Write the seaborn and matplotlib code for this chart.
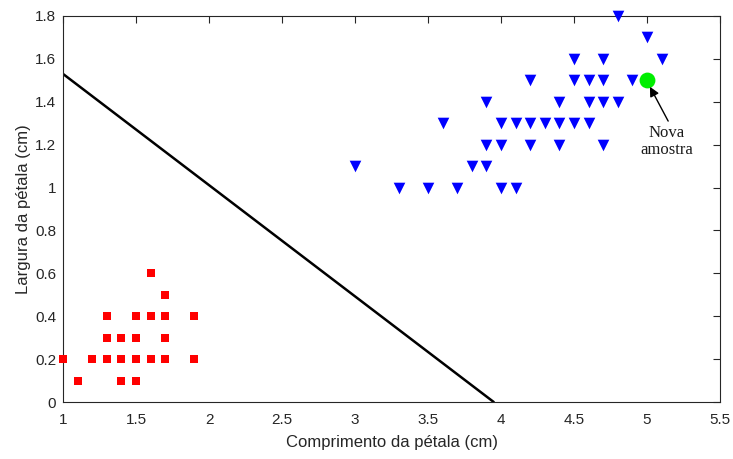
import matplotlib
matplotlib.use("Agg")
import matplotlib.pyplot as plt
import seaborn as sns
import pandas as pd

# Setosa (red squares)
setosa_len = [1.0, 1.1, 1.2, 1.3, 1.3, 1.3, 1.4, 1.4, 1.4, 1.5, 1.5, 1.5, 1.5,
              1.6, 1.6, 1.6, 1.7, 1.7, 1.7, 1.7, 1.9, 1.9]
setosa_wid = [0.2, 0.1, 0.2, 0.2, 0.3, 0.4, 0.1, 0.2, 0.3, 0.1, 0.2, 0.3, 0.4,
              0.2, 0.4, 0.6, 0.2, 0.3, 0.4, 0.5, 0.2, 0.4]

# Versicolor (blue triangles)
versi_len = [3.0, 3.3, 3.5, 3.6, 3.7, 3.8, 3.9, 3.9, 3.9, 4.0, 4.0, 4.0, 4.1, 4.1,
             4.2, 4.2, 4.2, 4.3, 4.4, 4.4, 4.4, 4.5, 4.5, 4.5, 4.6, 4.6, 4.6,
             4.7, 4.7, 4.7, 4.7, 4.8, 4.8, 4.9, 5.0, 5.1]
versi_wid = [1.1, 1.0, 1.0, 1.3, 1.0, 1.1, 1.1, 1.2, 1.4, 1.0, 1.2, 1.3, 1.0, 1.3,
             1.2, 1.3, 1.5, 1.3, 1.2, 1.3, 1.4, 1.3, 1.5, 1.6, 1.3, 1.4, 1.5,
             1.2, 1.4, 1.5, 1.6, 1.4, 1.8, 1.5, 1.7, 1.6]

# Decision boundary
line_x = [1.0, 3.95]
line_y = [1.53, 0.0]

# New sample
new_x = [5.0]
new_y = [1.5]
new_label = "Nova\namostra"

x_ticks = [1, 1.5, 2, 2.5, 3, 3.5, 4, 4.5, 5, 5.5]
x_tick_labels = ["1", "1.5", "2", "2.5", "3", "3.5", "4", "4.5", "5", "5.5"]
y_ticks = [0, 0.2, 0.4, 0.6, 0.8, 1.0, 1.2, 1.4, 1.6, 1.8]
y_tick_labels = ["0", "0.2", "0.4", "0.6", "0.8", "1", "1.2", "1.4", "1.6", "1.8"]

sns.set_style("white")
plt.rcParams['font.family'] = ['Liberation Sans', 'DejaVu Sans']

fig = plt.figure(figsize=(7.33, 4.59), dpi=100)
ax = fig.add_axes([63/733, 1 - 402/459, (720-63)/733, (402-16)/459])

sns.lineplot(x=line_x, y=line_y, ax=ax, color="black", linewidth=1.8, zorder=2)
sns.scatterplot(x=setosa_len, y=setosa_wid, ax=ax, marker="s", color="#ff0000",
                s=38, linewidth=0, zorder=3, clip_on=False)
sns.scatterplot(x=versi_len, y=versi_wid, ax=ax, marker="v", color="#0000ff",
                s=70, linewidth=0, zorder=3, clip_on=False)
sns.scatterplot(x=new_x, y=new_y, ax=ax, marker="o", color="#00ee00",
                s=130, linewidth=0, zorder=4)

# arrow from text to the new sample
ax.annotate("", xy=(5.02, 1.47), xytext=(5.145, 1.31),
            arrowprops=dict(arrowstyle="-|>", color="black", lw=1.0,
                            shrinkA=0, shrinkB=0, mutation_scale=14), zorder=5)
ax.text(5.137, 1.215, new_label, ha="center", va="center", fontsize=12,
        family=["Liberation Serif"], linespacing=1.15, color="#1a1a1a")

ax.set_xlim(1, 5.5)
ax.set_ylim(0, 1.8)
ax.set_xticks(x_ticks)
ax.set_xticklabels(x_tick_labels)
ax.set_yticks(y_ticks)
ax.set_yticklabels(y_tick_labels)
ax.tick_params(direction="in", length=5, width=0.8, top=True, right=True,
               labelsize=11, colors="#262626")
ax.tick_params(axis="x", pad=8)
ax.tick_params(axis="y", pad=5)
for sp in ax.spines.values():
    sp.set_color("#262626")
    sp.set_linewidth(0.8)
    sp.set_visible(True)

ax.set_xlabel("Comprimento da pétala (cm)", fontsize=12, color="#262626", labelpad=6)
ax.set_ylabel("Largura da pétala (cm)", fontsize=12, color="#262626", labelpad=3)

fig.savefig("out.png", dpi=100)
